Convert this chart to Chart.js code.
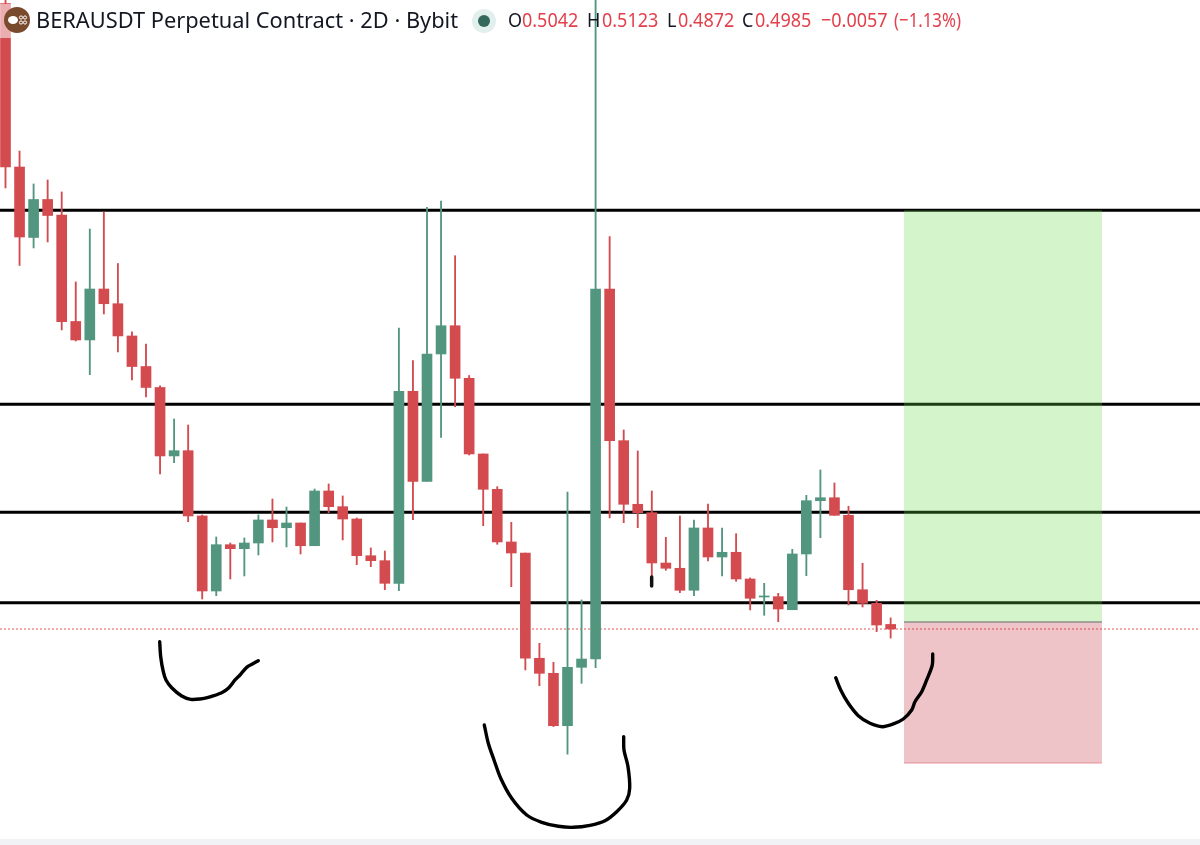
<!DOCTYPE html>
<html>
<head>
<meta charset="utf-8">
<title>BERAUSDT</title>
<script src="https://cdn.jsdelivr.net/npm/chart.js@4"></script>
<style>
  html, body { margin: 0; padding: 0; background: #fff; }
  #wrap { position: relative; width: 1200px; height: 845px; overflow: hidden; }
  #floor { position: absolute; left: 0; top: 839px; width: 1200px; height: 6px; background: #f0f2f5; }
  #legendBg { position: absolute; left: 0; top: 4px; width: 460px; height: 34px; background: rgba(255,255,255,.55); }
  .t { position: absolute; top: 7px; font: 20px "Noto Sans", sans-serif; line-height: 26px; white-space: nowrap; color: #e2404b; transform: scaleX(.9); transform-origin: left top; }
  .k { color: #131722; }
  #title { left: 36px; top: 6px; font-size: 21.8px; line-height: 28px; color: #131722; transform: none; }
  #logo { position: absolute; left: 4px; top: 7px; }
  #dot { position: absolute; left: 472px; top: 9px; }
</style>
</head>
<body>
<div id="wrap">
  <canvas id="chart" width="1200" height="845"></canvas>
  <div id="floor"></div>
  <div id="legendBg"></div>
  <svg id="logo" width="26" height="26">
    <circle cx="13" cy="13" r="13" fill="#7a4a2c"/>
    <ellipse cx="9" cy="13" rx="5" ry="4" fill="#fff"/>
    <circle cx="17" cy="10.5" r="1.6" fill="none" stroke="#fff"/>
    <circle cx="21" cy="10.5" r="1.6" fill="none" stroke="#fff"/>
    <circle cx="17" cy="15.5" r="1.6" fill="none" stroke="#fff"/>
    <circle cx="21" cy="15.5" r="1.6" fill="none" stroke="#fff"/>
  </svg>
  <div class="t" id="title">BERAUSDT Perpetual Contract · 2D · Bybit</div>
  <svg id="dot" width="24" height="24">
    <circle cx="12" cy="12" r="12" fill="#e2efec"/>
    <circle cx="12" cy="12" r="6" fill="#34685a"/>
  </svg>
  <div class="t k" style="left:508px">O</div><div class="t" style="left:522px">0.5042</div>
  <div class="t k" style="left:587px">H</div><div class="t" style="left:602px">0.5123</div>
  <div class="t k" style="left:667px">L</div><div class="t" style="left:678px">0.4872</div>
  <div class="t k" style="left:742px">C</div><div class="t" style="left:755px">0.4985</div>
  <div class="t" style="left:821px">−0.0057</div>
  <div class="t" style="left:894px;transform:scaleX(.84)">(−1.13%)</div>
</div>

<script>
// OHLC, one entry per 2D candle, left to right
const opens = [1.2804,1.0760,0.9879,1.0354,1.0160,0.8829,0.8598,0.9235,0.9051,0.8648,0.8266,0.8004,0.7148,0.7214,0.6398,0.5460,
  0.6039,0.5989,0.6060,0.6348,0.6251,0.6310,0.6026,0.6710,0.6514,0.6360,0.5901,0.5839,0.5556,0.7956,0.6831,0.8423,
  0.8776,0.8119,0.7173,0.6731,0.6073,0.5935,0.4619,0.4431,0.3776,0.4506,0.4610,0.9235,0.7339,0.6544,0.6439,0.5810,
  0.5744,0.5469,0.6248,0.5885,0.5944,0.5610,0.5385,0.5389,0.5226,0.5923,0.6589,0.6626,0.6406,0.5476,0.5306,0.5042];
const closes = [1.0760,0.9885,1.0354,1.0154,0.8826,0.8598,0.9235,0.9051,0.8648,0.8266,0.8004,0.7148,0.7214,0.6398,0.5460,0.6039,
  0.5989,0.6060,0.6348,0.6251,0.6310,0.6026,0.6710,0.6514,0.6360,0.5901,0.5839,0.5556,0.7956,0.6831,0.8423,0.8776,
  0.8119,0.7173,0.6731,0.6073,0.5935,0.4619,0.4431,0.3776,0.4506,0.4610,0.9235,0.7339,0.6544,0.6439,0.5810,0.5744,
  0.5469,0.6248,0.5885,0.5944,0.5610,0.5369,0.5398,0.5235,0.5923,0.6589,0.6626,0.6406,0.5476,0.5306,0.5035,0.4985];
const highs = [1.2900,1.0960,1.0548,1.0598,1.0448,0.9323,0.9985,1.0198,0.9554,0.8701,0.8548,0.8026,0.7610,0.7535,0.6410,0.6135,
  0.6060,0.6123,0.6410,0.6610,0.6510,0.6310,0.6735,0.6798,0.6648,0.6373,0.5998,0.5960,0.8748,0.8339,1.0256,1.0335,
  0.9651,0.8154,0.7173,0.6764,0.6319,0.5935,0.4806,0.4569,0.6698,0.5348,1.2900,0.9889,0.7473,0.7210,0.6710,0.6131,
  0.6398,0.6348,0.6548,0.6248,0.6176,0.5623,0.5556,0.5431,0.5981,0.6656,0.6973,0.6810,0.6519,0.5806,0.5344,0.5123];
const lows = [1.0498,0.9529,0.9748,0.9823,0.8723,0.8585,0.8164,0.8923,0.8448,0.8098,0.7885,0.6923,0.7064,0.6326,0.5360,0.5401,
  0.5610,0.5648,0.5910,0.6073,0.6010,0.5923,0.6026,0.6439,0.6098,0.5789,0.5764,0.5476,0.5464,0.6351,0.6831,0.7381,
  0.7764,0.7160,0.6276,0.6044,0.5514,0.4473,0.4276,0.3766,0.3419,0.4306,0.4501,0.6373,0.6314,0.6251,0.5639,0.5719,
  0.5439,0.5401,0.5835,0.5648,0.5581,0.5223,0.5156,0.5076,0.5226,0.5651,0.6126,0.6406,0.5285,0.5260,0.4951,0.4872];

// horizontal levels drawn on the chart
const levels = [1.0219, 0.7794, 0.6444, 0.5314];
const lastPrice = 0.4985;

// long position box
const boxFrom = 63.95, boxTo = 78.04;
const boxTarget = 1.0219, boxEntry = 0.5073, boxStop = 0.3310;

// freehand marks, [bar index, price]
const stroke1 = [[10.975,0.4826],[11.046,0.4639],[11.231,0.4451],[11.423,0.4348],[11.829,0.4251],[12.541,0.4148],[13.181,0.4106],[13.843,0.4110],
  [14.434,0.4131],[15.388,0.4189],[15.858,0.4244],[16.335,0.4348],[16.690,0.4410],[17.167,0.4506],[17.993,0.4589]];
const stroke2 = [[34.078,0.3785],[34.363,0.3556],[34.769,0.3348],[35.246,0.3119],[36.028,0.2869],[37.096,0.2660],[38.164,0.2569],[39.345,0.2519],
  [40.413,0.2506],[41.601,0.2531],[42.669,0.2589],[43.502,0.2701],[44.214,0.2848],[44.427,0.2994],[44.306,0.3264],[44.021,0.3473],[44.000,0.3639]];
const stroke3 = [[59.089,0.4376],[59.445,0.4223],[59.986,0.4056],[60.698,0.3901],[61.530,0.3806],[62.406,0.3764],[63.196,0.3798],[63.900,0.3860],
  [64.498,0.3973],[64.733,0.4076],[65.210,0.4201],[65.566,0.4348],[65.964,0.4535],[65.993,0.4673]];
const blot = [[45.99,0.5635],[45.99,0.5523]];

// axis window
const xMin = -0.3915, xMax = 85.0178;
const yMin = 0.2285, yMax = 1.28475;

const UP = '#53967f', DOWN = '#d34a4f';
const candleColor = ctx => closes[ctx.dataIndex] >= opens[ctx.dataIndex] ? UP : DOWN;

const pts = arr => arr.map(p => ({ x: p[0], y: p[1] }));
const span = (y, a, b) => [{ x: a, y: y }, { x: b, y: y }];
const lineBase = { type: 'line', pointRadius: 0, borderCapStyle: 'round', borderJoinStyle: 'round' };

const datasets = [];

levels.forEach(y => {
    datasets.push({ ...lineBase, data: span(y, xMin, xMax), borderColor: '#000', borderWidth: 3, order: 6 });
});
datasets.push({ ...lineBase, data: span(lastPrice, xMin, xMax), borderColor: '#e2545c', borderWidth: 1, borderDash: [2, 2], borderCapStyle: 'butt', order: 5 });

// wick then body
datasets.push({
    type: 'bar', grouped: false, barThickness: 1.2, order: 4,
    data: highs.map((h, i) => ({ x: i, y: [lows[i], h] })),
    backgroundColor: candleColor
});
datasets.push({
    type: 'bar', grouped: false, barThickness: 10, order: 3,
    data: opens.map((o, i) => ({ x: i, y: [o, closes[i]] })),
    backgroundColor: candleColor
});

// position box
datasets.push({ ...lineBase, data: span(boxTarget, boxFrom, boxTo), borderWidth: 0, fill: { value: boxEntry }, backgroundColor: 'rgba(100,215,70,.28)', order: 2 });
datasets.push({ ...lineBase, data: span(boxStop, boxFrom, boxTo), borderWidth: 0, fill: { value: boxEntry }, backgroundColor: 'rgba(200,60,75,.3)', order: 2 });
datasets.push({ ...lineBase, data: span(boxEntry, boxFrom, boxTo), borderColor: '#8c8f8c', borderWidth: 1.5, borderCapStyle: 'butt', order: 1 });
datasets.push({ ...lineBase, data: span(boxStop, boxFrom, boxTo), borderColor: 'rgba(225,110,120,.7)', borderWidth: 1, borderCapStyle: 'butt', order: 1 });

// hand drawn
[stroke1, stroke2, stroke3].forEach(s => {
    datasets.push({ ...lineBase, data: pts(s), borderColor: '#000', borderWidth: 3.4, tension: 0.3, order: 0 });
});
datasets.push({ ...lineBase, data: pts(blot), borderColor: '#111', borderWidth: 3.5, order: 0 });

new Chart(document.getElementById('chart'), {
    data: { datasets: datasets },
    options: {
        responsive: false,
        animation: false,
        layout: { padding: 0 },
        plugins: { legend: { display: false }, tooltip: { enabled: false }, title: { display: false } },
        scales: {
            x: { type: 'linear', min: xMin, max: xMax, offset: false, display: false },
            y: { type: 'linear', min: yMin, max: yMax, display: false }
        }
    }
});
</script>
</body>
</html>
